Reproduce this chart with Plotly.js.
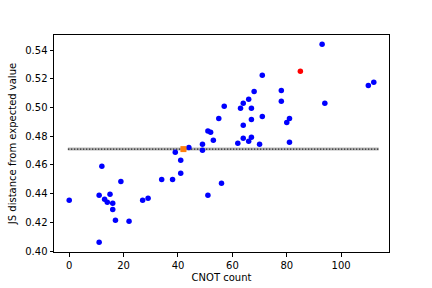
<!DOCTYPE html>
<html><head><meta charset="utf-8">
<script src="https://cdn.plot.ly/plotly-3.0.1.min.js"></script>
<style>html,body{margin:0;padding:0;background:#fff;}#chart{width:432px;height:288px;}</style>
</head><body><div id="chart"></div>
<script>
const blueX = [0, 11, 11, 12, 13, 14, 15, 16, 16, 17, 19, 22, 27, 29, 34, 38, 39, 41, 41, 44, 49, 49, 51, 51, 52, 53, 55, 56, 57, 62, 63, 64, 64, 64, 66, 66, 67, 67, 67, 68, 70, 71, 71, 78, 78, 80, 81, 81, 93, 94, 110, 112];
const blueY = [0.4353, 0.4061, 0.4388, 0.4590, 0.4360, 0.4339, 0.4395, 0.4332, 0.4290, 0.4214, 0.4485, 0.4207, 0.4353, 0.4367, 0.4499, 0.4499, 0.4688, 0.4632, 0.4541, 0.4722, 0.4743, 0.4702, 0.4836, 0.4388, 0.4827, 0.4771, 0.4924, 0.4472, 0.5008, 0.4750, 0.4994, 0.5029, 0.4876, 0.4785, 0.5057, 0.4764, 0.4994, 0.4917, 0.4792, 0.5112, 0.4743, 0.5224, 0.4938, 0.5119, 0.5043, 0.4896, 0.4924, 0.4757, 0.5440, 0.5029, 0.5154, 0.5175];
const redX = [85];
const redY = [0.5252];
const orangeX = [42];
const orangeY = [0.4710];
const expectedX = [-0.5, 113.8];
const expectedY = [0.4710, 0.4710];
const xTicks = [0, 20, 40, 60, 80, 100];
const yTicks = [0.40, 0.42, 0.44, 0.46, 0.48, 0.50, 0.52, 0.54];

const traces = [
  {x: expectedX, y: expectedY, mode: 'lines', line: {color: '#bababa', width: 3}, hoverinfo: 'skip'},
  {x: expectedX, y: expectedY, mode: 'lines', line: {color: '#000', width: 1, dash: '1.5px,1.5px'}, hoverinfo: 'skip'},
  {x: blueX, y: blueY, mode: 'markers', marker: {color: '#0000ff', size: 5.5, symbol: 'circle'}},
  {x: redX, y: redY, mode: 'markers', marker: {color: '#ff0000', size: 5.5, symbol: 'circle'}},
  {x: orangeX, y: orangeY, mode: 'markers', marker: {color: '#ff7f0e', size: 6, symbol: 'square'}}
];

const axisCommon = {
  showline: true, linecolor: '#000', linewidth: 1, mirror: true,
  ticks: 'outside', ticklen: 3.5, tickwidth: 1, tickcolor: '#000',
  showgrid: false, zeroline: false,
  tickfont: {family: 'DejaVu Sans', size: 10, color: '#000'}
};

const layout = {
  width: 432, height: 288,
  margin: {l: 54, r: 43, t: 35, b: 36},
  paper_bgcolor: '#fff', plot_bgcolor: '#fff',
  showlegend: false,
  font: {family: 'DejaVu Sans', size: 10, color: '#000'},
  xaxis: Object.assign({}, axisCommon, {
    range: [-5.6, 117.6], tickvals: xTicks, ticktext: xTicks.map(String),
    title: {text: 'CNOT count', font: {family: 'DejaVu Sans', size: 10, color: '#000'}, standoff: 4}
  }),
  yaxis: Object.assign({}, axisCommon, {
    range: [0.3993, 0.5505], tickvals: yTicks, ticktext: yTicks.map(v => v.toFixed(2)),
    title: {text: 'JS distance from expected value', font: {family: 'DejaVu Sans', size: 10, color: '#000'}, standoff: 6}
  })
};

Plotly.newPlot('chart', traces, layout, {displayModeBar: false, staticPlot: true});
</script></body></html>
